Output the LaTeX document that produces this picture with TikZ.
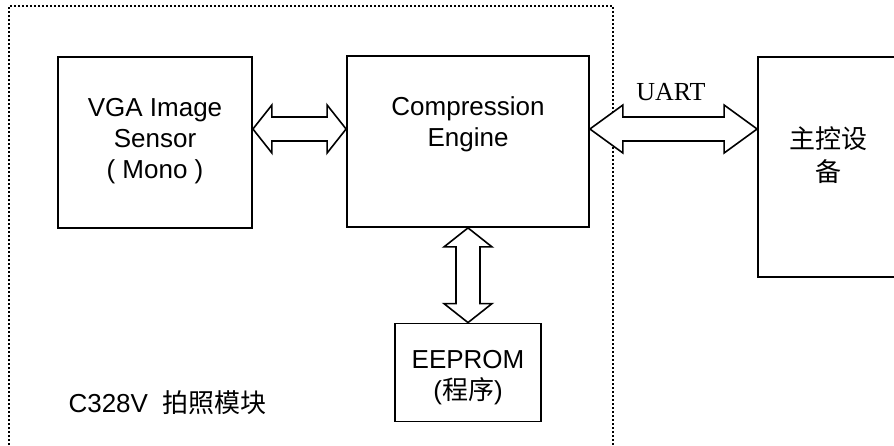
\documentclass[tikz,border=0pt]{standalone}
\usepackage{fontspec}
\setmainfont{Liberation Sans}
\newfontfamily\cjk{Noto Sans CJK SC}
\newfontfamily\tnr{Liberation Serif}
\usepackage{tikz}
\usetikzlibrary{calc,positioning}
\tikzset{
	% boxes, their text, the bus arrows and the dotted module frame
	block/.style={rectangle,draw,line width=1.8pt,inner sep=0},
	body text/.style={align=center,inner sep=0},
	bus/.style={draw,fill=white,line width=1.6pt,line join=miter},
	frame/.style={line width=1.6pt,dash pattern=on 1.6pt off 2.4pt}
}

\begin{document}
\begin{tikzpicture}[x=1pt,y=-1pt,font=\fontsize{26}{31}\selectfont]
	% macro for a double-headed bus arrow: [head length]{from}{to}
	\newcommand{\busarrow}[3][19pt]{
		\draw[bus] (#2)
			-- ($(#2)!#1!(#3)!24pt!90:(#3)$) -- ($(#2)!#1!(#3)!12pt!90:(#3)$)
			-- ($(#3)!#1!(#2)!12pt!-90:(#2)$) -- ($(#3)!#1!(#2)!24pt!-90:(#2)$)
			-- (#3)
			-- ($(#3)!#1!(#2)!24pt!90:(#2)$) -- ($(#3)!#1!(#2)!12pt!90:(#2)$)
			-- ($(#2)!#1!(#3)!12pt!-90:(#3)$) -- ($(#2)!#1!(#3)!24pt!-90:(#3)$)
			-- cycle;
	}
	\useasboundingbox (0,0) rectangle (894,445);
	\clip (0,0) rectangle (894,445);
	
	% camera module frame (open at the bottom)
	\draw[frame] (9,445) |- (613,6) -- (613,445);
	
	\node(vga)[block,minimum width=194pt,minimum height=171pt] at (155,142.5) {};
	\node[body text,below=42pt of vga.north] {VGA Image\\Sensor\\( Mono )};
	
	\node(cmp)[block,minimum width=242pt,minimum height=171pt] at (468,141.5) {};
	\node[body text,below=41pt of cmp.north] {Compression\\Engine};
	
	\node(rom)[block,minimum width=146pt,minimum height=98pt] at (468,372.5) {};
	\node[body text,below=28pt of rom.north] {EEPROM\\({\cjk 程序})};
	
	\node(host)[block,minimum width=140pt,minimum height=220pt] at (828,167) {};
	\node[body text,below=70pt of host.north,font=\cjk\fontsize{26}{33}\selectfont] {主控设\\备};
	
	\node(title)[anchor=base west] at (65,412) {C328V\ \ {\cjk 拍照模块}};
	\node(uart)[anchor=base,font=\tnr\fontsize{26}{31}\selectfont] at (671,100) {UART};
	
	% bus end points
	\coordinate (vga-bus) at ([yshift=13.5pt]vga.east);
	\coordinate (cmp-bus-w) at ([yshift=12.5pt]cmp.west);
	\coordinate (cmp-bus-e) at ([yshift=12.5pt]cmp.east);
	\coordinate (host-bus) at ([yshift=38pt]host.west);
	
	\busarrow{vga-bus}{cmp-bus-w}
	\busarrow[33pt]{cmp-bus-e}{host-bus}
	\busarrow{cmp.south}{rom.north}
\end{tikzpicture}
\end{document}
